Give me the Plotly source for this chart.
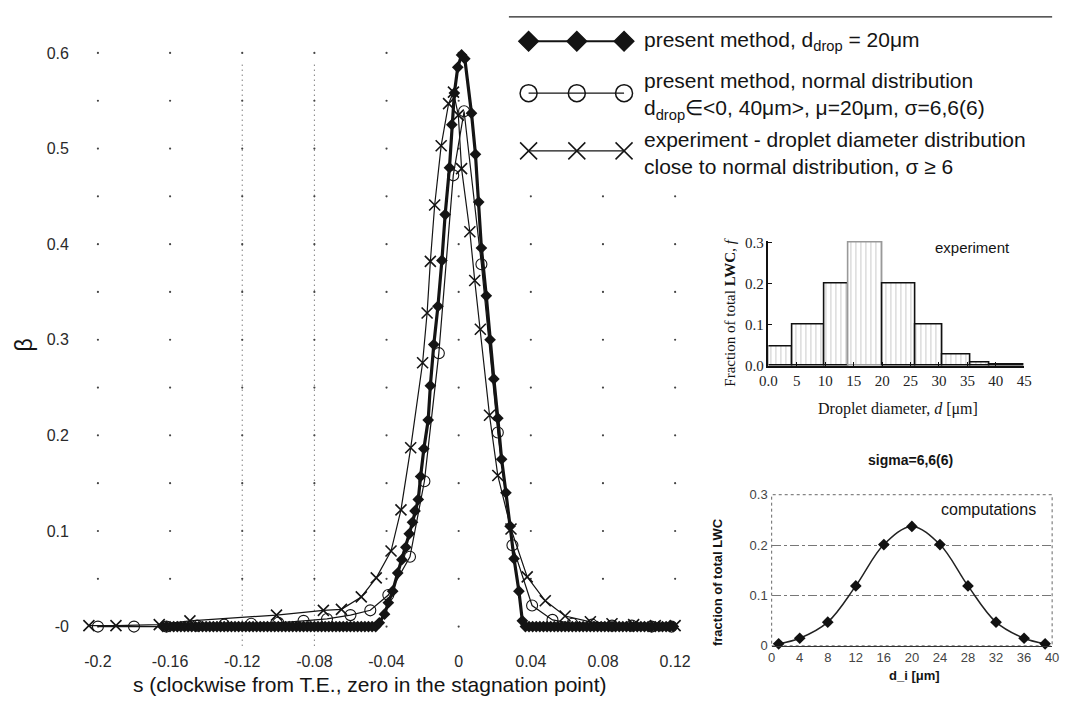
import plotly.graph_objects as go

W, H = 1068, 706

# ---------------- main chart data (s, beta) ----------------
s_mono_flat_left = [-0.164, -0.162, -0.160, -0.158, -0.156, -0.154, -0.152, -0.150, -0.148, -0.146,
                    -0.144, -0.142, -0.140, -0.138, -0.136, -0.134, -0.132, -0.130, -0.128, -0.126,
                    -0.124, -0.122, -0.120, -0.118, -0.116, -0.114, -0.112, -0.110, -0.108, -0.106,
                    -0.104, -0.102, -0.100, -0.098, -0.096, -0.094, -0.092, -0.090, -0.088, -0.086,
                    -0.084, -0.082, -0.080, -0.078, -0.076, -0.074, -0.072, -0.070, -0.068, -0.066,
                    -0.064, -0.062, -0.060, -0.058, -0.056, -0.054, -0.052, -0.050, -0.048, -0.046]
beta_mono_flat_left = [0, 0, 0, 0, 0, 0, 0, 0, 0, 0,
                       0, 0, 0, 0, 0, 0, 0, 0, 0, 0,
                       0, 0, 0, 0, 0, 0, 0, 0, 0, 0,
                       0, 0, 0, 0, 0, 0, 0, 0, 0, 0,
                       0, 0, 0, 0, 0, 0, 0, 0, 0, 0,
                       0, 0, 0, 0, 0, 0, 0, 0, 0, 0]
s_mono_peak = [-0.044, -0.0411, -0.039, -0.0366, -0.0338, -0.0315, -0.0293, -0.0274, -0.0256, -0.0242,
               -0.0224, -0.0211, -0.0193, -0.0169, -0.0157, -0.0138, -0.0115, -0.0093, -0.0075, -0.0051,
               -0.0038, -0.0024, -0.0005, 0.0016, 0.0034, 0.0071, 0.0093, 0.0111, 0.0126, 0.0153,
               0.0174, 0.0195, 0.0217, 0.0238, 0.0262, 0.0285, 0.0307, 0.0334, 0.0353]
beta_mono_peak = [0.004, 0.013, 0.025, 0.037, 0.056, 0.070, 0.083, 0.097, 0.109, 0.121,
                  0.133, 0.157, 0.186, 0.216, 0.252, 0.295, 0.335, 0.383, 0.431, 0.480,
                  0.525, 0.558, 0.585, 0.598, 0.594, 0.537, 0.494, 0.444, 0.396, 0.346,
                  0.300, 0.259, 0.218, 0.175, 0.140, 0.105, 0.071, 0.037, 0.006]
s_mono_flat_right = [0.037, 0.039, 0.041, 0.043, 0.045, 0.047, 0.049, 0.051, 0.053, 0.055,
                     0.057, 0.059, 0.061, 0.063, 0.065, 0.067, 0.069, 0.071, 0.073, 0.075,
                     0.077, 0.079, 0.081, 0.083, 0.085, 0.087, 0.089, 0.091, 0.093, 0.095,
                     0.097, 0.099, 0.101, 0.103, 0.105, 0.107, 0.109, 0.111, 0.113, 0.115,
                     0.117, 0.119]
beta_mono_flat_right = [0, 0, 0, 0, 0, 0, 0, 0, 0, 0,
                        0, 0, 0, 0, 0, 0, 0, 0, 0, 0,
                        0, 0, 0, 0, 0, 0, 0, 0, 0, 0,
                        0, 0, 0, 0, 0, 0, 0, 0, 0, 0,
                        0, 0]

s_norm = [-0.200, -0.180, -0.162, -0.145, -0.130, -0.115, -0.100, -0.086, -0.073, -0.060,
          -0.049, -0.039, -0.027, -0.019, -0.011, -0.003, 0.003, 0.0126, 0.0217, 0.0298,
          0.0407, 0.052, 0.063, 0.074, 0.085, 0.096, 0.107, 0.118]
beta_norm = [0.0, 0.0, 0.0, 0.001, 0.002, 0.003, 0.004, 0.006, 0.008, 0.012,
             0.017, 0.033, 0.073, 0.152, 0.286, 0.472, 0.539, 0.379, 0.203, 0.085,
             0.022, 0.007, 0.003, 0.002, 0.001, 0.001, 0.0, 0.0]

s_exp = [-0.205, -0.190, -0.166, -0.149, -0.101, -0.075, -0.065, -0.054, -0.0457, -0.0375,
         -0.032, -0.0266, -0.020, -0.0175, -0.0157, -0.0133, -0.0097, -0.0056, -0.0029, -0.0002,
         0.0016, 0.0062, 0.0089, 0.0120, 0.0171, 0.0217, 0.029, 0.038, 0.048, 0.059,
         0.073, 0.085, 0.097, 0.109, 0.120]
beta_exp = [0.001, 0.001, 0.002, 0.006, 0.012, 0.017, 0.018, 0.031, 0.051, 0.079,
            0.122, 0.187, 0.276, 0.328, 0.382, 0.441, 0.503, 0.547, 0.559, 0.535,
            0.479, 0.413, 0.362, 0.311, 0.221, 0.158, 0.102, 0.052, 0.027, 0.011,
            0.005, 0.003, 0.002, 0.001, 0.001]

s_ticks = [-0.2, -0.16, -0.12, -0.08, -0.04, 0, 0.04, 0.08, 0.12]
s_ticktext = ["-0.2", "-0.16", "-0.12", "-0.08", "-0.04", "0", "0.04", "0.08", "0.12"]
beta_ticks = [0, 0.1, 0.2, 0.3, 0.4, 0.5, 0.6]
beta_ticktext = ["-0", "0.1", "0.2", "0.3", "0.4", "0.5", "0.6"]
beta_grid_rows = [0, 0.05, 0.1, 0.15, 0.2, 0.25, 0.3, 0.35, 0.4, 0.45, 0.5, 0.55, 0.6]
dense_grid_cols = [-0.12, -0.08]

# ---------------- inset 1: experiment histogram ----------------
bin_left = [0.0, 4.2, 9.8, 14.0, 20.0, 25.8, 30.6, 35.5, 38.8]
bin_right = [4.2, 9.8, 14.0, 20.0, 25.8, 30.6, 35.5, 38.8, 44.8]
lwc_frac_exp = [0.046, 0.10, 0.20, 0.30, 0.20, 0.10, 0.028, 0.009, 0.004]
exp_xticks = [0, 5, 10, 15, 20, 25, 30, 35, 40, 45]
exp_xticktext = ["0.0", "5", "10", "15", "20", "25", "30", "35", "40", "45"]
exp_yticks = [0.0, 0.1, 0.2, 0.3]
exp_yticktext = ["0.0", "0.1", "0.2", "0.3"]

# ---------------- inset 2: computations ----------------
d_i = [1, 4, 8, 12, 16, 20, 24, 28, 32, 36, 39]
lwc_frac_comp = [0.004, 0.015, 0.047, 0.119, 0.201, 0.237, 0.201, 0.119, 0.047, 0.015, 0.004]
comp_xticks = [0, 4, 8, 12, 16, 20, 24, 28, 32, 36, 40]
comp_yticks = [0, 0.1, 0.2, 0.3]
comp_yticktext = ["0", "0.1", "0.2", "0.3"]

# ---------------- layout helpers (pixel geometry) ----------------
SANS = "Liberation Sans, Arial, sans-serif"
SERIF = "Liberation Serif, Times New Roman, serif"
INK = "#141414"


def px(x):
    return x / W


def py(y):
    return 1 - y / H


fig = go.Figure()

# grid intersection dots of the main chart (skip the legend box area)
gx, gy = [], []
for xv in s_ticks:
    for yv in beta_grid_rows:
        if xv > 0.02 and yv > 0.46:
            continue
        gx.append(xv)
        gy.append(yv)
fig.add_trace(go.Scatter(x=gx, y=gy, mode="markers", xaxis="x", yaxis="y",
                         marker=dict(size=2.2, color="#444"), hoverinfo="skip", showlegend=False))

s_mono = s_mono_flat_left + s_mono_peak + s_mono_flat_right
beta_mono = beta_mono_flat_left + beta_mono_peak + beta_mono_flat_right

fig.add_trace(go.Scatter(x=s_exp, y=beta_exp, mode="lines+markers", xaxis="x", yaxis="y",
                         line=dict(color=INK, width=1.2),
                         marker=dict(symbol="x-thin-open", size=11, color=INK, line=dict(width=1.6, color=INK)),
                         showlegend=False, cliponaxis=False))
fig.add_trace(go.Scatter(x=s_norm, y=beta_norm, mode="lines+markers", xaxis="x", yaxis="y",
                         line=dict(color=INK, width=1.2),
                         marker=dict(symbol="circle-open", size=11, color=INK, line=dict(width=1.1, color=INK)),
                         showlegend=False, cliponaxis=False))
fig.add_trace(go.Scatter(x=s_mono, y=beta_mono, mode="lines+markers", xaxis="x", yaxis="y",
                         line=dict(color=INK, width=3.2),
                         marker=dict(symbol="diamond", size=9, color=INK),
                         showlegend=False, cliponaxis=False))

# inset 1 bars
bar_x = [(l + r) / 2 for l, r in zip(bin_left, bin_right)]
bar_w = [r - l for l, r in zip(bin_left, bin_right)]
bar_line = ["#111"] * len(bar_x)
bar_line[3] = "#999"
fig.add_trace(go.Bar(x=bar_x, y=lwc_frac_exp, width=bar_w, xaxis="x2", yaxis="y2",
                     marker=dict(color="white", line=dict(color=bar_line, width=1.6),
                                 pattern=dict(shape="|", fgcolor="#8a8a8a", size=5, solidity=0.18)),
                     showlegend=False, hoverinfo="skip"))

# inset 2 curve
fig.add_trace(go.Scatter(x=d_i, y=lwc_frac_comp, mode="lines+markers", xaxis="x3", yaxis="y3",
                         line=dict(color="#222", width=1.5, shape="spline", smoothing=1.0),
                         marker=dict(symbol="diamond", size=9, color="#111"),
                         showlegend=False, cliponaxis=False))

# custom legend samples (pixel-space overlay axes)
LEG_X = [528, 577, 625]
LEG_ROWS = [(35, "diamond", 15, 2.0), (88, "circle-open", 17, 1.2), (147, "x-thin-open", 17, 1.2)]
for yrow, sym, size, lw in LEG_ROWS:
    fig.add_trace(go.Scatter(x=LEG_X, y=[yrow] * 3, mode="lines+markers", xaxis="x4", yaxis="y4",
                             line=dict(color=INK, width=lw),
                             marker=dict(symbol=sym, size=size, color=INK, line=dict(width=1.5, color=INK)),
                             showlegend=False, hoverinfo="skip", cliponaxis=False))

# ---------------- axes ----------------
MAIN_L, MAIN_R, MAIN_T, MAIN_B = 68, 700, 20, 655
fig.update_layout(
    width=W, height=H, margin=dict(l=0, r=0, t=0, b=0),
    paper_bgcolor="white", plot_bgcolor="rgba(0,0,0,0)",
    font=dict(family=SANS, color=INK),
    xaxis=dict(domain=[px(MAIN_L), px(MAIN_R)], range=[-0.2122, 0.1326],
               tickvals=s_ticks, ticktext=s_ticktext, showgrid=False, zeroline=False, showline=False,
               ticks="", ticklabelstandoff=2,
               tickfont=dict(size=16, color="#2a2a2a", family=SANS), anchor="y"),
    yaxis=dict(domain=[py(MAIN_B), py(MAIN_T)], range=[-0.0225, 0.6276],
               tickvals=beta_ticks, ticktext=beta_ticktext, showgrid=False, zeroline=False, showline=False,
               ticks="", ticklabelstandoff=6,
               tickfont=dict(size=16, color="#2a2a2a", family=SANS), anchor="x"),
    xaxis2=dict(domain=[px(771.7), px(1031.7)], range=[0, 45], anchor="y2",
                tickvals=exp_xticks, ticktext=exp_xticktext, showgrid=False, zeroline=False,
                showline=True, linecolor="#111", linewidth=1.5, ticks="inside", ticklen=4,
                tickcolor="#111", tickfont=dict(size=15, family=SERIF, color="#222")),
    yaxis2=dict(domain=[py(366.7), py(238.6)], range=[0, 0.305], anchor="x2",
                tickvals=exp_yticks, ticktext=exp_yticktext, showgrid=False, zeroline=False,
                showline=True, linecolor="#111", linewidth=1.5, ticks="inside", ticklen=4,
                tickcolor="#111", tickfont=dict(size=15, family=SERIF, color="#222")),
    xaxis3=dict(domain=[px(775), px(1060)], range=[0, 40], anchor="y3",
                tickvals=comp_xticks, showgrid=False, zeroline=False,
                showline=True, linecolor="#333", linewidth=1, ticks="",
                tickfont=dict(size=13, family=SANS, color="#444")),
    yaxis3=dict(domain=[py(652.7), py(498.3)], range=[0, 0.3], anchor="x3",
                tickvals=comp_yticks, ticktext=comp_yticktext, showgrid=True, gridcolor="#777",
                griddash="dashdot", gridwidth=1, zeroline=False, showline=False, ticks="",
                ticklabelstandoff=3, tickfont=dict(size=13, family=SANS, color="#444")),
    xaxis4=dict(domain=[0, 1], range=[0, W], visible=False, anchor="y4", fixedrange=True),
    yaxis4=dict(domain=[0, 1], range=[H, 0], visible=False, anchor="x4", fixedrange=True),
    bargap=0,
)

shapes = []
for xv in dense_grid_cols:
    shapes.append(dict(type="line", xref="x", yref="y", x0=xv, x1=xv, y0=-0.02, y1=0.59,
                       line=dict(color="#444", width=1, dash="1px,4px"), layer="below"))
# legend top rule
shapes.append(dict(type="line", xref="paper", yref="paper", x0=px(508), x1=px(1060), y0=py(10), y1=py(10),
                   line=dict(color="#222", width=1.2)))
# inset 2 dotted frame
shapes.append(dict(type="rect", xref="x3 domain", yref="y3 domain", x0=0, x1=1, y0=0, y1=1,
                   line=dict(color="#666", width=1, dash="dot"), layer="below"))
fig.update_layout(shapes=shapes)

anns = []


def ann(text, x, y, size, family=SANS, color=INK, xanchor="center", yanchor="middle", angle=0, align="center"):
    anns.append(dict(text=text, x=px(x), y=py(y), xref="paper", yref="paper", showarrow=False,
                     xanchor=xanchor, yanchor=yanchor, textangle=angle, align=align,
                     font=dict(size=size, family=family, color=color)))


# main axis titles
ann("s (clockwise from T.E., zero in the stagnation point)", 366, 692, 21)
ann("β", 15, 345, 23, angle=-90)

# legend texts
ann("present method, d<sub>drop</sub> = 20μm", 643, 35, 21, xanchor="left", align="left")
ann("present method, normal distribution<br>d<sub>drop</sub>∈&lt;0, 40μm&gt;, μ=20μm, σ=6,6(6)",
    643, 91, 21, xanchor="left", align="left")
ann("experiment - droplet diameter distribution<br>close to normal distribution, σ ≥ 6",
    643, 149, 21, xanchor="left", align="left")

# inset 1 texts
ann("experiment", 979, 246, 15)
ann("Droplet diameter, <i>d</i> [μm]", 903, 411, 16, family=SERIF)
ann("Fraction of total <b>LWC</b>, <i>f</i>", 733, 312, 15, family=SERIF, angle=-90)

# inset 2 texts
ann("<b>sigma=6,6(6)</b>", 916, 463, 14)
ann("computations", 995, 513, 16)
ann("<b>fraction of total LWC</b>", 720, 588, 13, angle=-90)
ann("<b>d_i [μm]</b>", 920, 683, 13)

fig.update_layout(annotations=anns)

fig.write_html("out.html")
